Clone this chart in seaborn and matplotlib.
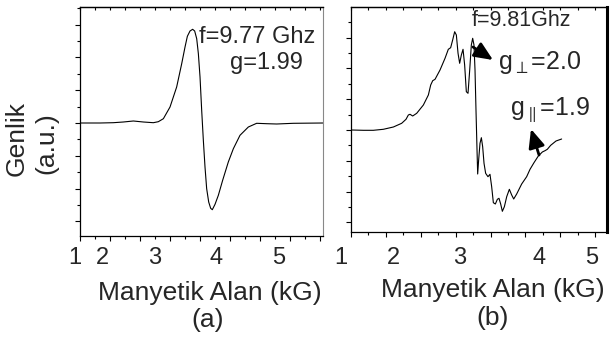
import numpy as np
import pandas as pd
import matplotlib
matplotlib.use("Agg")
import matplotlib.pyplot as plt
from matplotlib.ticker import FixedLocator, MultipleLocator, NullFormatter
import matplotlib.transforms as mtrans
import seaborn as sns

# ---------------- data ----------------
# panel (a): field (kG) and amplitude (a.u.)
a_field = [1.780, 2.106, 2.322, 2.485, 2.648, 2.810, 2.973, 3.054, 3.136, 3.244,
           3.352, 3.434, 3.488, 3.526, 3.569, 3.612, 3.645, 3.678, 3.705, 3.732,
           3.759, 3.786, 3.813, 3.840, 3.873, 3.905, 3.932, 3.976, 4.030, 4.100,
           4.192, 4.274, 4.382, 4.518, 4.653, 4.816, 4.978, 5.249, 5.737]
a_amp = [0.0, 0.0, 0.3, 1.0, 2.0, 1.0, 0.3, 1.3, 4.3, 16.0,
         36.0, 59.3, 76.0, 86.7, 92.0, 93.7, 92.0, 84.3, 69.3, 46.0,
         12.7, -17.3, -44.0, -65.7, -79.0, -85.3, -86.7, -81.3, -72.3, -57.3,
         -39.0, -25.7, -12.3, -4.0, -0.3, -0.7, -1.0, -0.3, 0.0]

# panel (b)
b_field = [1.128, 1.308, 1.462, 1.616, 1.771, 1.899, 1.966, 2.002, 2.028, 2.069,
           2.131, 2.234, 2.311, 2.347, 2.378, 2.414, 2.491, 2.568, 2.619, 2.655,
           2.686, 2.717, 2.743, 2.769, 2.794, 2.820, 2.846, 2.871, 2.897, 2.923,
           2.949, 2.974, 2.995, 3.015, 3.031, 3.046, 3.062, 3.072, 3.087, 3.108,
           3.129, 3.149, 3.170, 3.195, 3.231, 3.262, 3.288, 3.314, 3.345, 3.376,
           3.401, 3.427, 3.453, 3.484, 3.520, 3.561, 3.597, 3.628, 3.674, 3.751,
           3.828, 3.880, 3.941, 4.008, 4.070, 4.111, 4.147, 4.199, 4.281, 4.368]
b_amp = [0.0, -0.3, -0.3, 0.7, 3.0, 6.7, 10.7, 15.0, 15.7, 14.0,
         16.7, 25.0, 35.0, 45.0, 49.3, 50.7, 60.0, 71.7, 80.7, 82.3,
         90.0, 98.3, 95.0, 76.7, 66.7, 75.0, 80.7, 65.0, 38.3, 36.7,
         60.0, 85.0, 91.7, 85.0, 60.0, 20.0, -20.0, -44.0, -30.0, -13.3,
         -7.7, -16.7, -33.3, -43.3, -46.7, -44.3, -56.7, -72.7, -74.0, -69.3,
         -68.3, -74.0, -81.3, -76.7, -66.7, -59.3, -65.0, -69.0, -64.0, -54.0,
         -46.7, -39.3, -32.7, -26.0, -22.0, -20.7, -19.3, -15.3, -11.0, -9.0]

tick_labels = ["1", "2", "3", "4", "5"]
a_label_pos = [1.699, 2.138, 3.0, 3.992, 5.016]
b_label_pos = [0.963, 1.765, 2.799, 4.019, 4.836]

xlabel = "Manyetik Alan (kG)"
ylabel_1 = "Genlik"
ylabel_2 = "(a.u.)"
a_texts = ["f=9.77 Ghz", "g=1.99"]
b_freq = "f=9.81Ghz"
b_gperp = r"g$_{\perp}$=2.0"
b_gpar = r"g$_{\parallel}$=1.9"

# ---------------- style ----------------
sns.set_theme(style="ticks")
plt.rcParams["font.family"] = ["Liberation Sans", "DejaVu Sans"]
plt.rcParams["mathtext.fontset"] = "custom"
plt.rcParams["mathtext.rm"] = "Liberation Sans"
plt.rcParams["mathtext.it"] = "Liberation Sans"
plt.rcParams["mathtext.fallback"] = "stix"

W, H = 610, 338
fig = plt.figure(figsize=(W / 100, H / 100), dpi=100)
fig.patch.set_facecolor("white")

def fx(px):
    return px / W

def fy(py):
    return 1 - py / H

axA = fig.add_axes([fx(80), fy(236), (323 - 80) / W, (236 - 7) / H])
axB = fig.add_axes([fx(351), fy(232), (607 - 351) / W, (232 - 7) / H])

dfA = pd.DataFrame({"field": a_field, "amp": a_amp})
dfB = pd.DataFrame({"field": b_field, "amp": b_amp})

sns.lineplot(data=dfA, x="field", y="amp", ax=axA, color="black", lw=0.8,
             sort=False, estimator=None)
sns.lineplot(data=dfB, x="field", y="amp", ax=axB, color="black", lw=0.8,
             sort=False, estimator=None)

axA.set_xlim(1.780, 5.732)
axA.set_ylim(-113, 116)
axB.set_xlim(1.117, 5.068)
axB.set_ylim(-102, 123)

for ax in (axA, axB):
    ax.set_xlabel("")
    ax.set_ylabel("")
    ax.set_facecolor("white")
    for s in ax.spines.values():
        s.set_color("black")
        s.set_linewidth(0.9)

axA.spines["right"].set_color("#888888")
axA.spines["right"].set_linewidth(0.8)
axB.spines["right"].set_linewidth(2.2)

# tick marks
a_step = 30 / 61.5
axA.xaxis.set_major_locator(FixedLocator(1.780 + a_step * np.arange(0, 9)))
axA.xaxis.set_minor_locator(FixedLocator(1.780 + a_step * (np.arange(0, 8) + 0.5)))
axA.yaxis.set_major_locator(MultipleLocator(32.8))
axA.yaxis.set_minor_locator(MultipleLocator(16.4))

b_step = 17.45 / 64.8
b_ticks = 1.117 + b_step * np.arange(0, 15)
axB.xaxis.set_major_locator(FixedLocator(b_ticks[::2]))
axB.xaxis.set_minor_locator(FixedLocator(b_ticks[1::2]))
axB.yaxis.set_major_locator(MultipleLocator(30.8))
axB.yaxis.set_minor_locator(MultipleLocator(15.4))

for ax in (axA, axB):
    ax.tick_params(axis="both", which="major", direction="out", length=3.6,
                   width=0.8, colors="black", labelbottom=False, labelleft=False,
                   right=False, top=False)
    ax.tick_params(axis="both", which="minor", direction="out", length=2.0,
                   width=0.8, colors="black", right=False, top=False)
    ax.xaxis.set_major_formatter(NullFormatter())
    ax.yaxis.set_major_formatter(NullFormatter())
    sec = ax.secondary_xaxis("top")
    sec.xaxis.set_major_locator(FixedLocator(
        list(ax.xaxis.get_major_locator()()) + list(ax.xaxis.get_minor_locator()())))
    sec.xaxis.set_major_formatter(NullFormatter())
    sec.tick_params(direction="in", length=2.5, width=0.8, colors="black")
    sec.spines["top"].set_linewidth(0.9)

# tick labels placed where the picture shows them
transA = mtrans.blended_transform_factory(axA.transData, axA.transAxes)
for lab, pos in zip(tick_labels, a_label_pos):
    axA.text(pos, (236 - 258) / 229, lab, transform=transA, ha="center",
             va="center", fontsize=17, clip_on=False)
transB = mtrans.blended_transform_factory(axB.transData, axB.transAxes)
for lab, pos in zip(tick_labels, b_label_pos):
    axB.text(pos, (232 - 258) / 225, lab, transform=transB, ha="center",
             va="center", fontsize=17, clip_on=False)

# axis titles
fig.text(fx(210), fy(293), xlabel, ha="center", va="center", fontsize=19)
fig.text(fx(208), fy(320), "(a)", ha="center", va="center", fontsize=19)
fig.text(fx(493), fy(290), xlabel, ha="center", va="center", fontsize=19)
fig.text(fx(493), fy(318), "(b)", ha="center", va="center", fontsize=19)
fig.text(fx(17), fy(138), ylabel_1, ha="center", va="center", fontsize=19,
         rotation=90)
fig.text(fx(46), fy(143), ylabel_2, ha="center", va="center", fontsize=19,
         rotation=90)

# annotations
axA.text(4.659, 86, a_texts[0], ha="center", va="center", fontsize=17)
axA.text(4.805, 60, a_texts[1], ha="center", va="center", fontsize=17)

axB.text(3.741, 109, b_freq, ha="center", va="center", fontsize=15.5)
axB.text(3.386, 67, b_gperp, ha="left", va="center", fontsize=18)
axB.text(3.571, 20, b_gpar, ha="left", va="center", fontsize=18)

arrow_kw = dict(arrowstyle="-|>,head_length=0.8,head_width=0.35", lw=2,
                color="black", mutation_scale=14, shrinkA=0, shrinkB=0)
axB.annotate("", xy=(3.309, 70), xytext=(3.0, 83), arrowprops=arrow_kw)
axB.annotate("", xy=(3.895, 1), xytext=(4.019, -25), arrowprops=arrow_kw)

fig.savefig("out.png", dpi=100, facecolor="white")
